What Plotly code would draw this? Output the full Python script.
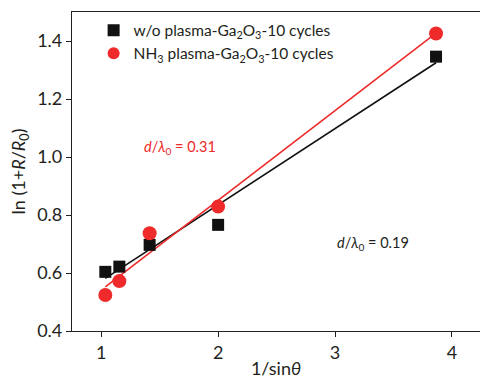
import numpy as np
import plotly.graph_objects as go

x_vals = [1.035, 1.155, 1.414, 2.0, 3.864]
y_wo = [0.604, 0.622, 0.697, 0.766, 1.346]
y_nh3 = [0.524, 0.572, 0.737, 0.829, 1.426]
name_wo = "w/o plasma-Ga<sub>2</sub>O<sub>3</sub>-10 cycles"
name_nh3 = "NH<sub>3</sub> plasma-Ga<sub>2</sub>O<sub>3</sub>-10 cycles"
x_ticks = [1, 2, 3, 4]
y_ticks = [0.4, 0.6, 0.8, 1.0, 1.2, 1.4]

FONT = "Lato"
BLACK = "#111111"
RED = "#ee2a2a"
TXT = "#231f20"

xa = np.array(x_vals)
fit_x = np.array([xa.min(), xa.max()])

fig = go.Figure()
for ys, col in [(y_wo, BLACK), (y_nh3, RED)]:
    k, b = np.polyfit(xa, np.array(ys), 1)
    fig.add_trace(go.Scatter(x=fit_x, y=k * fit_x + b, mode="lines",
                             line=dict(color=col, width=1.6), showlegend=False,
                             hoverinfo="skip"))

fig.add_trace(go.Scatter(x=x_vals, y=y_wo, mode="markers", name=name_wo,
                         marker=dict(symbol="square", size=12, color=BLACK)))
fig.add_trace(go.Scatter(x=x_vals, y=y_nh3, mode="markers", name=name_nh3,
                         marker=dict(symbol="circle", size=14, color=RED)))

fig.add_annotation(x=1.35, y=1.034, xref="x", yref="y", showarrow=False,
                   text="<i>d</i>/<i>λ</i><sub>0</sub> = 0.31",
                   font=dict(family=FONT, size=14.5, color=RED), xanchor="left")
fig.add_annotation(x=3.0, y=0.702, xref="x", yref="y", showarrow=False,
                   text="<i>d</i>/<i>λ</i><sub>0</sub> = 0.19",
                   font=dict(family=FONT, size=14.5, color=TXT), xanchor="left")

fig.update_layout(
    width=480, height=379,
    margin=dict(l=72, r=0, t=12, b=48),
    paper_bgcolor="white", plot_bgcolor="white",
    font=dict(family=FONT, color=TXT),
    legend=dict(x=0.053, y=0.995, xanchor="left", yanchor="top",
                bgcolor="rgba(0,0,0,0)", font=dict(family=FONT, size=15.5, color=TXT),
                itemsizing="constant", tracegroupgap=3),
    xaxis=dict(range=[0.75, 4.24], tickvals=x_ticks, ticks="outside", ticklen=5,
               tickcolor=TXT, showline=True, linecolor=TXT, linewidth=1.2,
               mirror=True, showgrid=False, zeroline=False,
               tickfont=dict(family=FONT, size=18, color=TXT),
               title=dict(text="1/sin<i>θ</i>", font=dict(family=FONT, size=18, color=TXT),
                          standoff=4)),
    yaxis=dict(range=[0.4, 1.5], tickvals=y_ticks, tickformat=".1f", ticks="outside",
               ticklen=5, tickcolor=TXT, showline=True, linecolor=TXT,
               linewidth=1.2, showgrid=False, zeroline=False,
               tickfont=dict(family=FONT, size=18, color=TXT),
               title=dict(text="ln (1+<i>R</i>/<i>R</i><sub>0</sub>)",
                          font=dict(family=FONT, size=18, color=TXT), standoff=6)),
)

fig.write_html("out.html")
